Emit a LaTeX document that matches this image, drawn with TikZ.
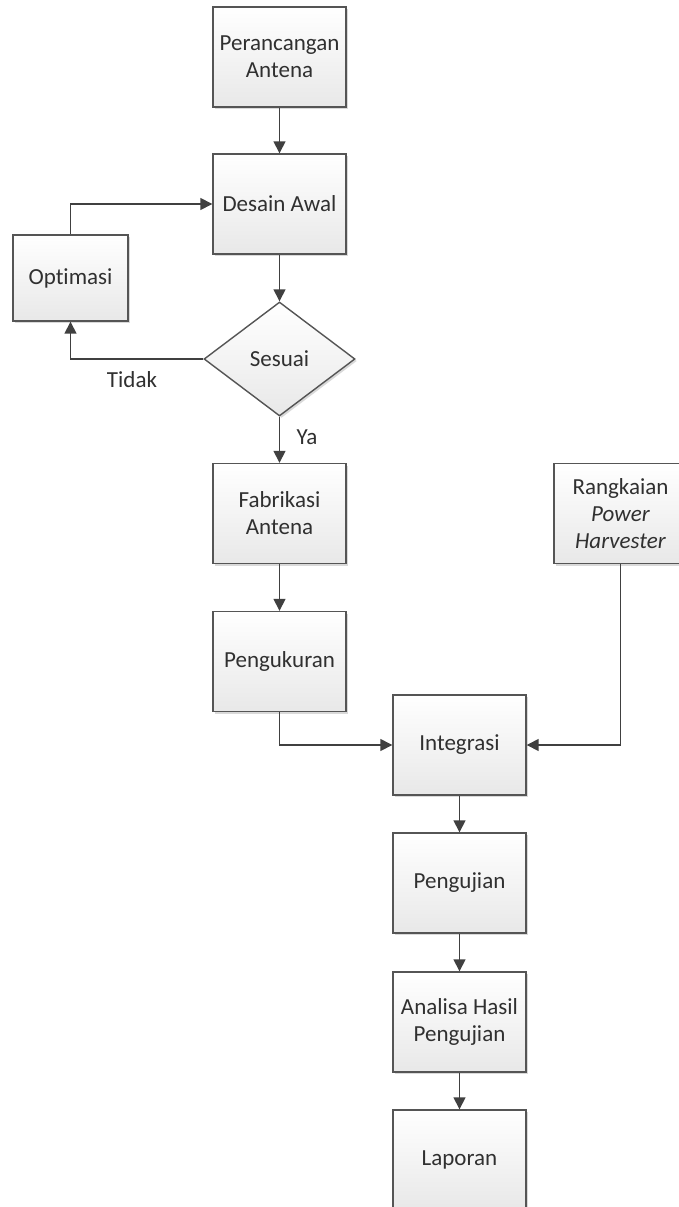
\documentclass[tikz,border=0pt]{standalone}
\usepackage{fontspec}
\setmainfont{Carlito}[Ligatures={NoCommon}]
\usetikzlibrary{shapes.geometric,arrows.meta,shadows}
\definecolor{boxline}{HTML}{555555}
\definecolor{arrline}{HTML}{404040}
\definecolor{txt}{HTML}{303030}
\tikzset{
  procbox/.style={draw=boxline, line width=1.4pt, top color=white, bottom color=black!9,
    minimum width=133pt, minimum height=100pt, inner sep=2pt, align=center,
    text=txt, font=\fontsize{23}{27}\selectfont,
    drop shadow={shadow xshift=2pt, shadow yshift=-2pt, opacity=0.15, fill=black}},
  decbox/.style={diamond, draw=boxline, line width=1.4pt, top color=white, bottom color=black!9,
    minimum width=151pt, minimum height=114pt, inner sep=0pt, align=center,
    text=txt, font=\fontsize{23}{27}\selectfont,
    drop shadow={shadow xshift=2pt, shadow yshift=-2pt, opacity=0.15, fill=black}},
  arr/.style={draw=arrline, line width=1.5pt, -{Triangle[length=12pt,width=12pt]}},
  lbl/.style={text=txt, font=\fontsize{23}{27}\selectfont, inner sep=0pt}
}
\begin{document}
\begin{tikzpicture}[x=1pt,y=-1pt]
\useasboundingbox (0,0) rectangle (679,1207);
\clip (0,0) rectangle (679,1207);
\fill[white] (0,0) rectangle (679,1207);
\node[procbox] (pa) at (279.5,57) {Perancangan\\Antena};
\node[procbox] (da) at (279.5,204) {Desain Awal};
\node[procbox, minimum width=115pt, minimum height=86pt] (opt) at (70.5,278) {Optimasi};
\node[decbox] (ses) at (279.5,359) {Sesuai};
\node[procbox] (fa) at (279.5,513.5) {Fabrikasi\\Antena};
\node[procbox] (pe) at (279.5,661.5) {Pengukuran};
\node[procbox] (rph) at (620.5,513.5) {Rangkaian\\\textit{Power}\\\textit{Harvester}};
\node[procbox] (int) at (459.5,745) {Integrasi};
\node[procbox] (pj) at (459.5,883) {Pengujian};
\node[procbox] (an) at (459.5,1022) {Analisa Hasil\\Pengujian};
\node[procbox] (lap) at (459.5,1160) {Laporan};
\node[lbl] (tidak) at (132,380) {Tidak};
\node[lbl] (ya) at (307,437) {Ya};
\draw[arr] (pa) -- (da);
\draw[arr] (da) -- (ses);
\draw[arr] (opt.north) |- (da.west);
\draw[arr] (ses.west) -| (opt.south);
\draw[arr] (ses) -- (fa);
\draw[arr] (fa) -- (pe);
\draw[arr] (pe.south) |- (int.west);
\draw[arr] (rph.south) |- (int.east);
\draw[arr] (int) -- (pj);
\draw[arr] (pj) -- (an);
\draw[arr] (an) -- (lap);
\end{tikzpicture}
\end{document}
